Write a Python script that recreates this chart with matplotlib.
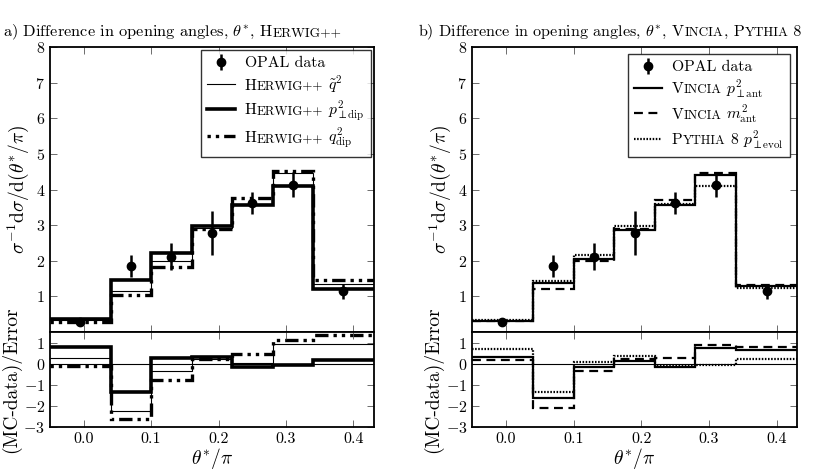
import matplotlib
matplotlib.use('Agg')
import matplotlib.pyplot as plt
from matplotlib.offsetbox import TextArea, HPacker, AnchoredOffsetbox

plt.rcParams['font.family'] = 'serif'
plt.rcParams['font.serif'] = ['cmr10', 'DejaVu Serif']
plt.rcParams['mathtext.fontset'] = 'cm'
plt.rcParams['axes.formatter.use_mathtext'] = True
plt.rcParams['axes.unicode_minus'] = True

# bins and OPAL data
edges = [-0.05, 0.04, 0.10, 0.16, 0.22, 0.28, 0.34, 0.44]
data_x = [-0.005, 0.07, 0.13, 0.19, 0.25, 0.31, 0.385]
data_y = [0.28, 1.85, 2.12, 2.78, 3.63, 4.13, 1.15]
data_err = [0.05, 0.30, 0.38, 0.62, 0.31, 0.35, 0.21]

# panel a) Herwig++
hw_qt = [0.33, 1.15, 1.99, 2.92, 3.60, 4.46, 1.36]
hw_pt = [0.37, 1.45, 2.22, 2.97, 3.57, 4.09, 1.20]
hw_qd = [0.27, 1.05, 1.82, 2.89, 3.77, 4.53, 1.46]
hw_qt_r = [0.27, -2.24, -0.36, 0.20, 0.04, 0.93, 0.92]
hw_pt_r = [0.78, -1.33, 0.25, 0.33, -0.17, -0.05, 0.19]
hw_qd_r = [-0.12, -2.62, -0.78, 0.20, 0.45, 1.10, 1.35]

# panel b) Vincia, Pythia 8
vi_pt = [0.31, 1.37, 2.06, 2.85, 3.56, 4.40, 1.30]
vi_m = [0.30, 1.20, 1.98, 2.90, 3.71, 4.45, 1.33]
py_pt = [0.35, 1.44, 2.16, 2.99, 3.60, 4.10, 1.23]
vi_pt_r = [0.30, -1.61, -0.17, 0.12, -0.17, 0.74, 0.64]
vi_m_r = [0.19, -2.11, -0.36, 0.22, 0.27, 0.89, 0.77]
py_pt_r = [0.70, -1.35, 0.06, 0.36, -0.09, -0.06, 0.23]

fig = plt.figure(figsize=(8.3, 4.75), dpi=100)

SC = 0.82  # small caps scale
LEG_FS = 11.3


def sc_box(pieces, fs):
    # pieces: list of (text, is_small)
    kids = [TextArea(s, textprops=dict(fontsize=fs * SC if small else fs))
            for s, small in pieces]
    return HPacker(children=kids, align='baseline', pad=0, sep=0)


def add_title(pieces, fs, x, y):
    anc = AnchoredOffsetbox(loc='lower left', child=sc_box(pieces, fs), pad=0,
                            borderpad=0, frameon=False, bbox_to_anchor=(x, y),
                            bbox_transform=fig.transFigure)
    fig.add_artist(anc)
    return anc


def panel(x0, width, series, ratios, axpad):
    ax = fig.add_axes([x0, 0.301, width, 0.600])
    rx = fig.add_axes([x0, 0.101, width, 0.200], sharex=ax)
    eb = ax.errorbar(data_x, data_y, yerr=data_err, fmt='o', color='k',
                     ms=6, lw=1.8, capsize=0, zorder=5)
    handles = [eb]
    for (vals, lab, kw), rv in zip(series, ratios):
        h = ax.stairs(vals, edges, baseline=None, color='k', **kw)
        rx.stairs(rv, edges, baseline=None, color='k', **kw)
        handles.append(h)
    rx.axhline(0, color='k', lw=0.8)
    ax.set_xlim(-0.05, 0.43)
    ax.set_ylim(0, 8)
    ax.set_yticks(range(1, 9))
    rx.set_ylim(-3, 1.5)
    rx.set_yticks([-3, -2, -1, 0, 1])
    rx.set_xticks([0.0, 0.1, 0.2, 0.3, 0.4])
    rx.set_xticklabels(['0.0', '0.1', '0.2', '0.3', '0.4'])
    for a in (ax, rx):
        a.tick_params(direction='in', top=True, right=True, labelsize=11.5,
                      length=5, width=0.6, colors='#555555', labelcolor='k')
        for s in a.spines.values():
            s.set_linewidth(1.3)
    ax.tick_params(labelbottom=False)
    ax.set_ylabel(r'$\sigma^{-1}\mathrm{d}\sigma/\mathrm{d}(\theta^{*}/\pi)$',
                  fontsize=14)
    rx.set_ylabel('(MC-data)/Error', fontsize=14)
    ax.yaxis.set_label_coords(-0.06, 0.5)
    rx.yaxis.set_label_coords(-0.09, 0.5)
    rx.set_xlabel(r'$\theta^{*}/\pi$', fontsize=14, labelpad=0)

    labels = ['OPAL data'] + [''.join(p for p, _ in s[1]) for s in series]
    leg = ax.legend(handles, labels, loc='upper right', fontsize=LEG_FS,
                    frameon=True, fancybox=False, edgecolor='k',
                    handlelength=1.8, borderaxespad=axpad, labelspacing=0.2,
                    borderpad=0.4, handletextpad=0.6)
    leg.get_frame().set_linewidth(1.0)
    # swap the plain labels for small-caps versions
    items = [it for col in leg._legend_handle_box.get_children()
             for it in col.get_children()]
    for it, s in zip(items[1:], series):
        kids = it.get_children()
        box = sc_box(s[1], LEG_FS)
        box.set_figure(fig)
        kids[1] = box


panel(0.0602, 0.390,
      [(hw_qt, [('H', False), ('ERWIG++', True), (r' $\tilde{q}^2$', False)],
        dict(lw=0.8)),
       (hw_pt, [('H', False), ('ERWIG++', True),
                (r' $p^2_{\perp\mathrm{dip}}$', False)], dict(lw=2.6)),
       (hw_qd, [('H', False), ('ERWIG++', True),
                (r' $q^2_{\mathrm{dip}}$', False)],
        dict(lw=2.4, linestyle=(0, (1, 1.5, 1, 1.5, 4, 1.5))))],
      [hw_qt_r, hw_pt_r, hw_qd_r], 0.2)

panel(0.5687, 0.3916,
      [(vi_pt, [('V', False), ('INCIA', True),
                (r' $p^2_{\perp\mathrm{ant}}$', False)], dict(lw=1.6)),
       (vi_m, [('V', False), ('INCIA', True),
               (r' $m^2_{\mathrm{ant}}$', False)],
        dict(lw=1.6, linestyle=(0, (4, 2.5)))),
       (py_pt, [('P', False), ('YTHIA', True),
                (r' 8 $p^2_{\perp\mathrm{evol}}$', False)],
        dict(lw=1.6, linestyle=(0, (0.7, 0.7))))],
      [vi_pt_r, vi_m_r, py_pt_r], 0.45)

# titles, sized to the width they take in the original
titles = [
    ([(r'a) Difference in opening angles, $\theta^{*}$, H', False),
      ('ERWIG++', True)], 0.0036, 339),
    ([(r'b) Difference in opening angles, $\theta^{*}$, V', False),
      ('INCIA', True), (', P', False), ('YTHIA', True), (' 8', False)],
     0.5036, 384),
]
ancs = [add_title(p, 13, x, 0.912) for p, x, _ in titles]
fig.canvas.draw()
rend = fig.canvas.get_renderer()
for anc, (p, x, target) in zip(ancs, titles):
    w = anc.get_child().get_window_extent(rend).width
    anc.remove()
    add_title(p, 13 * target / w, x, 0.912)

fig.savefig('out.png', dpi=100)
